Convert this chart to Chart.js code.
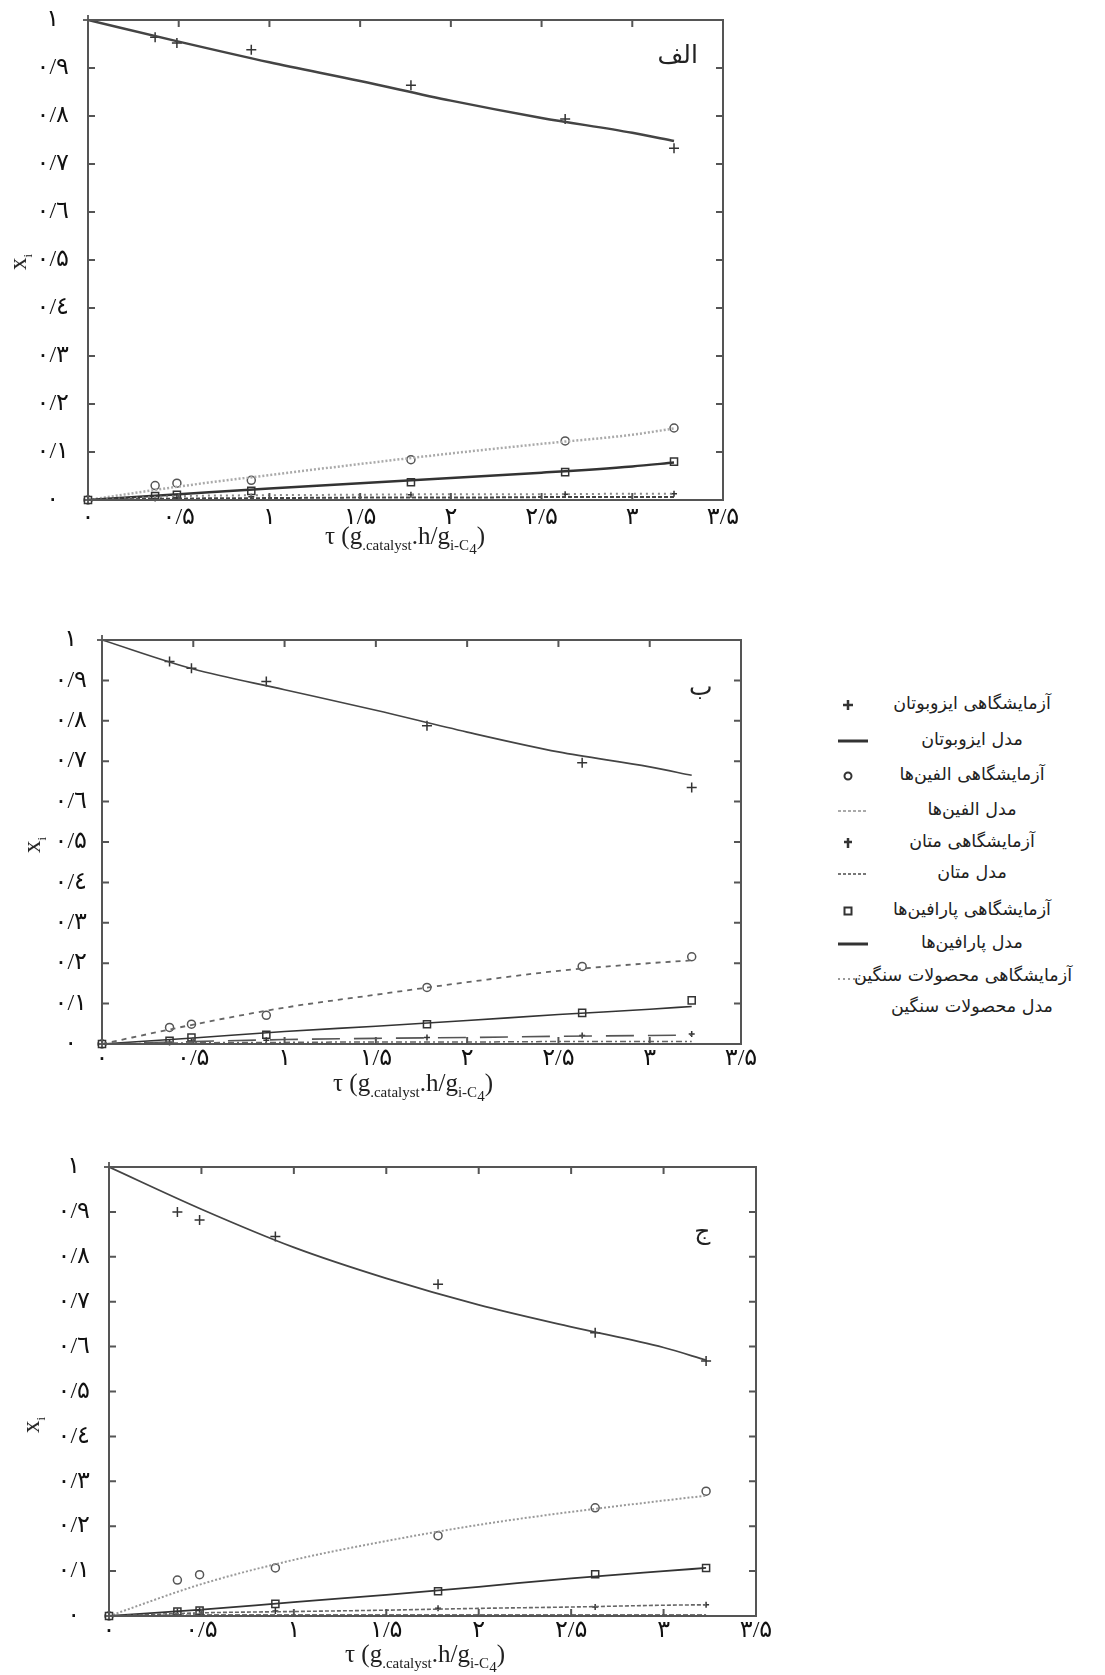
<!DOCTYPE html>
<html lang="fa">
<head>
<meta charset="utf-8">
<title>xi - tau</title>
<script src="https://cdn.jsdelivr.net/npm/chart.js@4.4.1/dist/chart.umd.min.js"></script>
<style>
  body { margin: 0; background: #fff; }
  #page { position: relative; width: 1105px; height: 1675px; overflow: hidden;
          font-family: 'Liberation Serif', 'DejaVu Sans', serif; color: #222; }
  canvas { position: absolute; }
  .xt { position: absolute; font-size: 25px; white-space: nowrap; transform: translateX(-50%); }
  .xt sub { font-size: 15px; }
  .yt { position: absolute; font-size: 25px; white-space: nowrap; transform: translate(-50%, -50%) rotate(-90deg); }
  .yt sub { font-size: 13px; }
  .lg { position: absolute; height: 30px; width: 260px; }
  .lg svg { position: absolute; left: 0; top: 5px; }
  .lg span { position: absolute; left: 34px; width: 200px; top: 3px; text-align: center;
             direction: rtl; font-size: 17.5px; white-space: nowrap; font-family: 'DejaVu Sans', serif; }
</style>
</head>
<body>
<div id="page">
  <canvas id="chartA" width="740" height="535" style="left:20px;top:0px"></canvas>
  <canvas id="chartB" width="740" height="474" style="left:30px;top:610px"></canvas>
  <canvas id="chartC" width="760" height="519" style="left:30px;top:1137px"></canvas>

  <div class="yt" style="left:20px;top:262px">x<sub>i</sub></div>
  <div class="xt" style="left:405px;top:522px">τ (g<sub>.catalyst</sub>.h/g<sub>i-C<sub>4</sub></sub>)</div>
  <div class="yt" style="left:34px;top:845px">x<sub>i</sub></div>
  <div class="xt" style="left:413px;top:1069px">τ (g<sub>.catalyst</sub>.h/g<sub>i-C<sub>4</sub></sub>)</div>
  <div class="yt" style="left:33px;top:1425px">x<sub>i</sub></div>
  <div class="xt" style="left:425px;top:1640px">τ (g<sub>.catalyst</sub>.h/g<sub>i-C<sub>4</sub></sub>)</div>

  <div id="legend"></div>
</div>

<script>
// tau values (g.catalyst.h/g i-C4)
const tauExp = [0, 0.37, 0.49, 0.90, 1.78, 2.63, 3.23];
const tauModel = [0, 0.5, 1, 1.5, 2, 2.5, 3, 3.23];
const xTicks = [0, 0.5, 1, 1.5, 2, 2.5, 3, 3.5];
const yTicks = [0, 0.1, 0.2, 0.3, 0.4, 0.5, 0.6, 0.7, 0.8, 0.9, 1];

// panel A (الف)
const isoExpA = [1.0, 0.964, 0.952, 0.938, 0.864, 0.794, 0.733];
const isoModelA = [1.0, 0.955, 0.912, 0.873, 0.832, 0.796, 0.765, 0.748];
const oleExpA = [0, 0.030, 0.035, 0.041, 0.084, 0.123, 0.150];
const oleModelA = [0, 0.028, 0.052, 0.075, 0.097, 0.117, 0.136, 0.149];
const paraExpA = [0, 0.008, 0.011, 0.019, 0.037, 0.058, 0.080];
const paraModelA = [0, 0.012, 0.024, 0.035, 0.046, 0.057, 0.070, 0.078];
const methExpA = [0, 0.003, 0.005, 0.007, 0.011, 0.012, 0.013];
const methModelA = [0, 0.008, 0.010, 0.011, 0.012, 0.012, 0.013, 0.013];
const heavyModelA = [0, 0.003, 0.004, 0.005, 0.005, 0.006, 0.006, 0.006];

// panel B (ب)
const isoExpB = [1.0, 0.947, 0.930, 0.897, 0.788, 0.696, 0.635];
const isoModelB = [1.0, 0.928, 0.877, 0.826, 0.772, 0.723, 0.686, 0.665];
const oleExpB = [0, 0.041, 0.049, 0.071, 0.140, 0.192, 0.216];
const oleModelB = [0, 0.048, 0.090, 0.122, 0.153, 0.181, 0.200, 0.207];
const paraExpB = [0, 0.008, 0.016, 0.023, 0.049, 0.077, 0.108];
const paraModelB = [0, 0.015, 0.031, 0.044, 0.058, 0.073, 0.086, 0.093];
const methExpB = [0, 0.004, 0.006, 0.009, 0.016, 0.021, 0.025];
const methModelB = [0, 0.006, 0.011, 0.014, 0.016, 0.019, 0.021, 0.022];
const heavyModelB = [0, 0.003, 0.004, 0.005, 0.005, 0.006, 0.006, 0.006];

// panel C (ج)
const isoExpC = [1.0, 0.900, 0.882, 0.845, 0.739, 0.631, 0.568];
const isoModelC = [1.0, 0.906, 0.821, 0.752, 0.693, 0.644, 0.598, 0.570];
const oleExpC = [0, 0.080, 0.092, 0.107, 0.179, 0.241, 0.278];
const oleModelC = [0, 0.071, 0.125, 0.167, 0.203, 0.232, 0.257, 0.268];
const paraExpC = [0, 0.010, 0.012, 0.027, 0.055, 0.093, 0.107];
const paraModelC = [0, 0.014, 0.031, 0.047, 0.065, 0.084, 0.100, 0.107];
const methExpC = [0, 0.010, 0.012, 0.011, 0.017, 0.020, 0.025];
const methModelC = [0, 0.007, 0.010, 0.013, 0.017, 0.020, 0.024, 0.025];
const heavyModelC = [0, 0.002, 0.002, 0.002, 0.002, 0.002, 0.002, 0.002];

const legendLabels = [
  'آزمایشگاهی ایزوبوتان', 'مدل ایزوبوتان',
  'آزمایشگاهی الفین‌ها', 'مدل الفین‌ها',
  'آزمایشگاهی متان', 'مدل متان',
  'آزمایشگاهی پارافین‌ها', 'مدل پارافین‌ها',
  'آزمایشگاهی محصولات سنگین', 'مدل محصولات سنگین'
];

const faDigits = ['۰', '۱', '۲', '۳', '٤', '۵', '٦', '۷', '۸', '۹'];
function toFa(v) {
  return String(Math.round(v * 10) / 10).replace('.', '/').replace(/\d/g, d => faDigits[d]);
}

function pts(xs, ys) {
  return ys.map((y, i) => ({ x: xs[i], y: y }));
}

// box around the plot with inward ticks on all four sides
const framePlugin = {
  id: 'frame',
  afterDatasetsDraw(chart, args, opts) {
    const { ctx, chartArea: a, scales } = chart;
    ctx.save();
    ctx.strokeStyle = opts.color || '#555';
    ctx.lineWidth = opts.width || 2;
    ctx.strokeRect(a.left, a.top, a.right - a.left, a.bottom - a.top);
    const len = opts.tick || 7;
    ctx.beginPath();
    xTicks.forEach(v => {
      const px = scales.x.getPixelForValue(v);
      if (px <= a.left + 2 || px >= a.right - 2) return;
      ctx.moveTo(px, a.bottom); ctx.lineTo(px, a.bottom - len);
      ctx.moveTo(px, a.top); ctx.lineTo(px, a.top + len);
    });
    yTicks.forEach(v => {
      const py = scales.y.getPixelForValue(v);
      if (py <= a.top + 2 || py >= a.bottom - 2) return;
      ctx.moveTo(a.left, py); ctx.lineTo(a.left + len, py);
      ctx.moveTo(a.right, py); ctx.lineTo(a.right - len, py);
    });
    ctx.stroke();
    // panel letter
    if (opts.label) {
      ctx.fillStyle = '#222';
      ctx.font = '25px "DejaVu Sans"';
      ctx.textAlign = 'center';
      ctx.textBaseline = 'middle';
      ctx.fillText(opts.label, scales.x.getPixelForValue(opts.lx), scales.y.getPixelForValue(opts.ly));
    }
    ctx.restore();
  }
};

function modelLine(data, color, width, dash) {
  return {
    data: pts(tauModel, data), showLine: true, pointRadius: 0,
    borderColor: color, borderWidth: width, borderDash: dash,
    tension: 0.4, cubicInterpolationMode: 'monotone', fill: false
  };
}

function expPoints(data, style, radius, color, width) {
  return {
    data: pts(tauExp, data), showLine: false, clip: false,
    pointStyle: style, pointRadius: radius, pointBorderColor: color,
    pointBackgroundColor: '#fff', pointBorderWidth: width
  };
}

const tickFont = { family: '"Liberation Serif", "DejaVu Sans", serif', size: 24 };

function makeChart(id, p) {
  return new Chart(document.getElementById(id), {
    type: 'scatter',
    data: {
      datasets: [
        modelLine(p.heavyModel, p.heavyStyle[0], p.heavyStyle[1], p.heavyStyle[2]),
        modelLine(p.methModel, p.methStyle[0], p.methStyle[1], p.methStyle[2]),
        modelLine(p.paraModel, '#333', p.lineW, []),
        modelLine(p.oleModel, p.oleStyle[0], p.oleStyle[1], p.oleStyle[2]),
        modelLine(p.isoModel, '#444', p.lineW, []),
        expPoints(p.methExp, 'cross', 3, '#333', 1.5),
        expPoints(p.paraExp, 'rect', 5, '#333', 1.5),
        expPoints(p.oleExp, 'circle', 4, '#555', 1.5),
        expPoints(p.isoExp, 'cross', 5, '#333', 1.5)
      ]
    },
    options: {
      responsive: false,
      animation: false,
      layout: { padding: { top: p.padTop, right: p.padRight, left: 0, bottom: 0 } },
      plugins: {
        legend: { display: false },
        tooltip: { enabled: false },
        frame: { label: p.label, lx: p.labelPos[0], ly: p.labelPos[1], width: 2, color: '#555' }
      },
      scales: {
        x: {
          type: 'linear', min: 0, max: 3.5,
          afterBuildTicks: s => { s.ticks = xTicks.map(v => ({ value: v })); },
          afterFit: s => { s.height = p.xH; },
          grid: { display: false, drawTicks: false },
          border: { display: false },
          ticks: {
            callback: v => toFa(v), autoSkip: false, maxRotation: 0,
            padding: p.xPad, color: '#111', font: tickFont
          }
        },
        y: {
          type: 'linear', min: 0, max: 1,
          afterBuildTicks: s => { s.ticks = yTicks.map(v => ({ value: v })); },
          afterFit: s => { s.width = p.yW; s.paddingTop = 0; s.paddingBottom = 0; },
          grid: { display: false, drawTicks: false },
          border: { display: false },
          ticks: {
            callback: v => toFa(v), autoSkip: false, crossAlign: 'center',
            padding: p.yPad, color: '#111', font: tickFont
          }
        }
      }
    },
    plugins: [framePlugin]
  });
}

makeChart('chartA', {
  label: 'الف', labelPos: [3.25, 0.923],
  isoExp: isoExpA, isoModel: isoModelA, oleExp: oleExpA, oleModel: oleModelA,
  paraExp: paraExpA, paraModel: paraModelA, methExp: methExpA, methModel: methModelA,
  heavyModel: heavyModelA,
  lineW: 2.5,
  oleStyle: ['#aaa', 2.5, [2, 2]],
  methStyle: ['#888', 2, [2, 4]],
  heavyStyle: ['#444', 2, [4, 2]],
  padTop: 20, padRight: 37, xH: 35, yW: 68, xPad: 3, yPad: 19
});

makeChart('chartB', {
  label: 'ب', labelPos: [3.28, 0.879],
  isoExp: isoExpB, isoModel: isoModelB, oleExp: oleExpB, oleModel: oleModelB,
  paraExp: paraExpB, paraModel: paraModelB, methExp: methExpB, methModel: methModelB,
  heavyModel: heavyModelB,
  lineW: 1.6,
  oleStyle: ['#666', 1.8, [5, 5]],
  methStyle: ['#555', 1.6, [28, 14]],
  heavyStyle: ['#666', 1.5, [6, 3, 2, 3]],
  padTop: 30, padRight: 29, xH: 40, yW: 72, xPad: 0, yPad: 15
});

makeChart('chartC', {
  label: 'ج', labelPos: [3.21, 0.855],
  isoExp: isoExpC, isoModel: isoModelC, oleExp: oleExpC, oleModel: oleModelC,
  paraExp: paraExpC, paraModel: paraModelC, methExp: methExpC, methModel: methModelC,
  heavyModel: heavyModelC,
  lineW: 1.8,
  oleStyle: ['#999', 2, [2, 2]],
  methStyle: ['#666', 1.6, [4, 2]],
  heavyStyle: ['#444', 1.5, [5, 2]],
  padTop: 30, padRight: 34, xH: 40, yW: 79, xPad: 0, yPad: 19
});

// shared legend (right of panel B)
const legendRowsY = [690, 726, 761, 796, 828, 859, 896, 929, 962, 993];
const legendSamples = [
  '<path d="M10 5 V15 M5 10 H15" stroke="#333" stroke-width="2.5"/>',
  '<path d="M0 10 H30" stroke="#333" stroke-width="3"/>',
  '<circle cx="10" cy="10" r="3.5" fill="#fff" stroke="#333" stroke-width="2"/>',
  '<path d="M0 10 H30" stroke="#aaa" stroke-width="2" stroke-dasharray="3 2"/>',
  '<path d="M10 5 V15 M6 9 H14" stroke="#333" stroke-width="2.5"/>',
  '<path d="M0 10 H30" stroke="#777" stroke-width="2" stroke-dasharray="3 2"/>',
  '<rect x="6.5" y="6.5" width="7" height="7" fill="#fff" stroke="#333" stroke-width="2"/>',
  '<path d="M0 10 H30" stroke="#333" stroke-width="3"/>',
  '<path d="M0 12 H24" stroke="#999" stroke-width="2" stroke-dasharray="2 3"/>',
  ''
];
document.getElementById('legend').innerHTML = legendLabels.map((t, i) =>
  '<div class="lg" style="left:838px;top:' + legendRowsY[i] + 'px">' +
  '<svg width="32" height="20">' + legendSamples[i] + '</svg>' +
  '<span>' + t + '</span></div>'
).join('');
</script>
</body>
</html>
